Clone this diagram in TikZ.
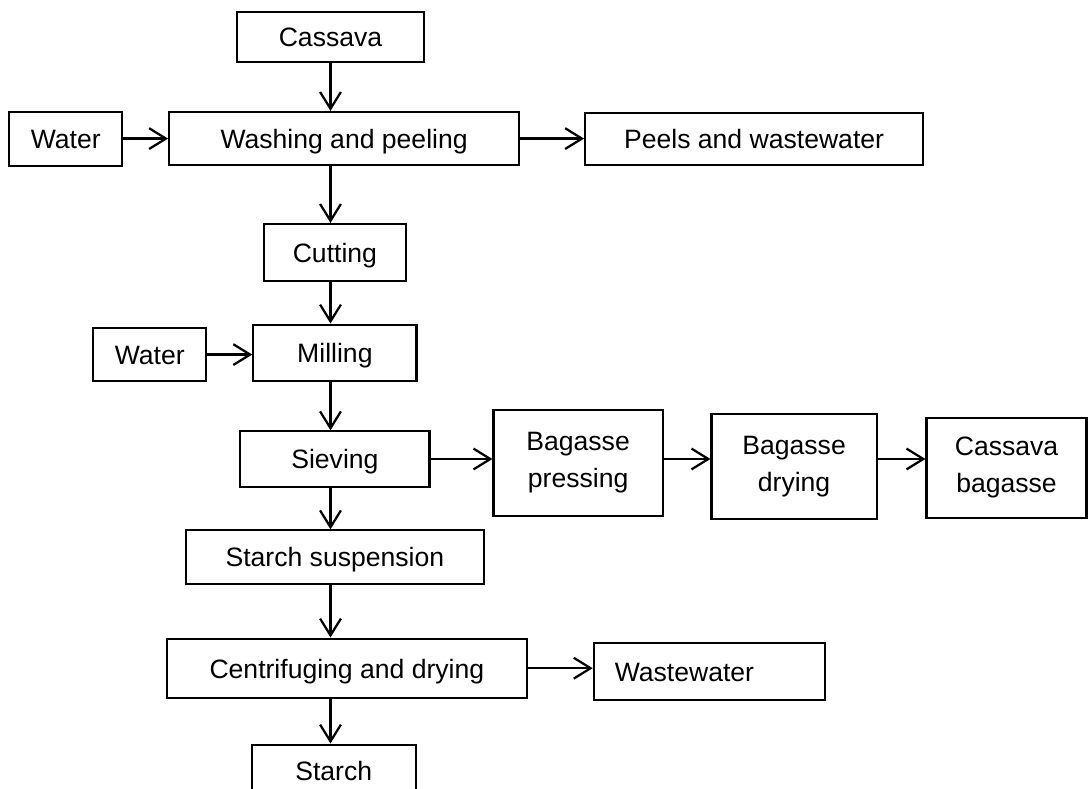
\documentclass[tikz,border=0pt]{standalone}
\usepackage{fontspec}
\setmainfont{Liberation Sans}
\usetikzlibrary{arrows.meta}
\tikzstyle{box} = [rectangle, draw=black, line width=1.5pt, inner sep=0pt, text centered, align=center, font=\fontsize{18.9}{26.3}\selectfont]
\tikzstyle{box1} = [box, text height=14pt, text depth=0pt]
\tikzstyle{arrow} = [line width=1.6pt,-{Straight Barb[length=0.42cm,width=0.52cm]}]

\begin{document}
\begin{tikzpicture}[node distance=2.5cm]
\clip (-8.2625,0.925) rectangle (18.9875,-18.8);

%% NODES
\node (cassava) [box1, minimum width=4.68cm, minimum height=1.25cm] {Cassava};
\node (washing) [box1, below of=cassava, xshift=0.34cm, yshift=-0.04cm, minimum width=8.75cm, minimum height=1.33cm] {Washing and peeling};
\node (water1) [box1, left of=washing, xshift=-4.46cm, minimum width=2.83cm, minimum height=1.35cm] {Water};
\node (peels) [box1, right of=washing, xshift=7.75cm, minimum width=8.45cm, minimum height=1.3cm] {Peels and wastewater};
\node (cutting) [box1, below of=washing, xshift=-0.23cm, yshift=-0.35cm, minimum width=3.55cm, minimum height=1.43cm] {Cutting};
\node (milling) [box1, below of=cutting, minimum width=4.08cm, minimum height=1.4cm] {Milling};
\node (water2) [box1, left of=milling, xshift=-2.13cm, yshift=-0.05cm, minimum width=2.83cm, minimum height=1.33cm] {Water};
\node (sieving) [box1, below of=milling, yshift=-0.16cm, minimum width=4.73cm, minimum height=1.38cm] {Sieving};
\node (pressing) [box, right of=sieving, xshift=3.58cm, yshift=-0.09cm, minimum width=4.23cm, minimum height=2.65cm] {Bagasse\\pressing};
\node (drying) [box, right of=pressing, xshift=2.9cm, yshift=-0.09cm, minimum width=4.13cm, minimum height=2.63cm] {Bagasse\\drying};
\node (cbagasse) [box, right of=drying, xshift=2.81cm, yshift=-0.04cm, minimum width=4cm, minimum height=2.5cm] {Cassava\\bagasse};
\node (suspension) [box1, below of=sieving, yshift=0.05cm, minimum width=7.45cm, minimum height=1.33cm] {Starch suspension};
\node (centrif) [box1, below of=suspension, xshift=0.3cm, yshift=-0.28cm, minimum width=9cm, minimum height=1.48cm] {Centrifuging and drying};
\node (wastewater) [box1, right of=centrif, xshift=6.56cm, yshift=-0.08cm, inner xsep=0.525cm, text width=4.725cm, align=left, minimum height=1.43cm] {Wastewater};
\node (starch) [box1, below of=centrif, xshift=-0.33cm, yshift=-0.06cm, minimum width=4.1cm, minimum height=1.3cm] {Starch};

%% ARROWS
\draw [arrow] (cassava.south) -- (washing.north -| cassava);
\draw [arrow] (water1.east) -- (washing.west |- water1.east);
\draw [arrow] (washing.east) -- (peels.west |- washing.east);
\draw [arrow] (washing.south -| cassava) -- (cutting.north -| cassava);
\draw [arrow] (cutting.south -| cassava) -- (milling.north -| cassava);
\draw [arrow] (water2.east) -- (milling.west |- water2.east);
\draw [arrow] (milling.south -| cassava) -- (sieving.north -| cassava);
\draw [arrow] (sieving.east) -- (pressing.west |- sieving.east);
\draw [arrow] (pressing.east |- sieving.east) -- (drying.west |- sieving.east);
\draw [arrow] (drying.east |- sieving.east) -- (cbagasse.west |- sieving.east);
\draw [arrow] (sieving.south -| cassava) -- (suspension.north -| cassava);
\draw [arrow] (suspension.south -| cassava) -- (centrif.north -| cassava);
\draw [arrow] (centrif.east) -- (wastewater.west |- centrif.east);
\draw [arrow] (centrif.south -| cassava) -- (starch.north -| cassava);
\end{tikzpicture}
\end{document}
